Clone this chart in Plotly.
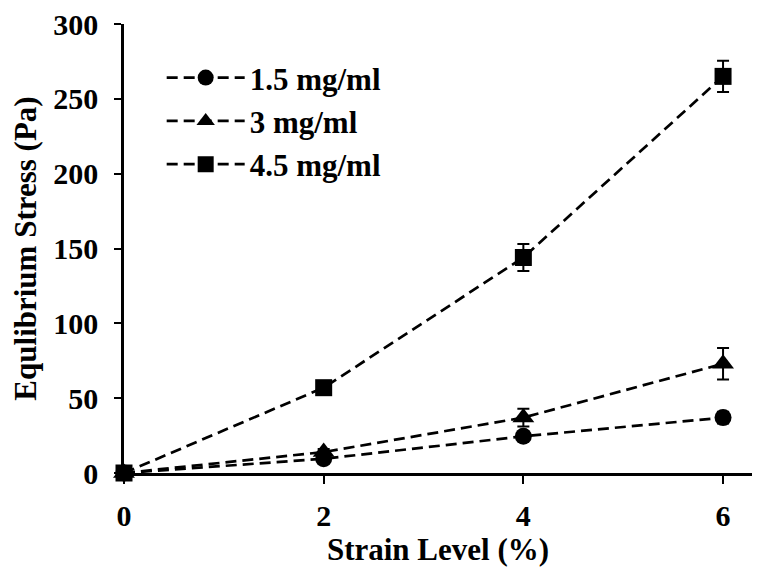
import plotly.graph_objects as go

strain = [0, 2, 4, 6]
series_names = ["1.5 mg/ml", "3 mg/ml", "4.5 mg/ml"]
stress_15 = [0, 9.5, 24.5, 37]
stress_30 = [0, 14, 37, 73]
stress_45 = [0, 57, 144, 265]
err_15 = [0, 1, 2, 4]
err_30 = [0, 2, 6, 10.5]
err_45 = [0, 2, 9, 10.5]
symbols = ["circle", "triangle-up", "square"]
x_ticks = [0, 2, 4, 6]
y_ticks = [0, 50, 100, 150, 200, 250, 300]

FONT = "Liberation Serif"
fig = go.Figure()
for name, ys, es, sym in zip(series_names, [stress_15, stress_30, stress_45],
                             [err_15, err_30, err_45], symbols):
    fig.add_trace(go.Scatter(
        x=strain, y=ys, name=name, mode="lines+markers",
        line=dict(color="black", width=2.7, dash="11px,6px"),
        marker=dict(symbol=sym, size=17 if sym != "triangle-up" else 19, color="black"),
        error_y=dict(type="data", array=es, visible=True, color="black",
                     thickness=2, width=6),
        cliponaxis=False,
    ))

fig.update_layout(
    width=764, height=572,
    margin=dict(l=124, r=12, t=24, b=99),
    plot_bgcolor="white", paper_bgcolor="white",
    font=dict(family=FONT, color="black", size=30),
    showlegend=True,
    legend=dict(x=0.06, y=0.94, xanchor="left", yanchor="top",
                bgcolor="rgba(0,0,0,0)", itemwidth=78,
                font=dict(family=FONT, size=31, weight="bold", color="black"),
                tracegroupgap=0),
)
fig.update_xaxes(
    range=[0, 6.29], tickvals=x_ticks, ticks="outside", ticklen=8, tickwidth=2,
    tickcolor="black", showline=True, linecolor="black", linewidth=2.5,
    showgrid=False, zeroline=False, mirror=False, automargin=False,
    tickfont=dict(family=FONT, size=30, weight="bold", color="black"),
    ticklabelstandoff=6,
    title=dict(text="<b>Strain Level (%)</b>",
               font=dict(family=FONT, size=31, color="black"), standoff=8),
)
fig.update_yaxes(
    range=[0, 300], tickvals=y_ticks, ticks="outside", ticklen=7, tickwidth=2,
    tickcolor="black", showline=True, linecolor="black", linewidth=2.5,
    showgrid=False, zeroline=False, mirror=False, automargin=False,
    tickfont=dict(family=FONT, size=30, weight="bold", color="black"),
    ticklabelstandoff=10,
    title=dict(text="<b>Equlibrium Stress (Pa)</b>",
               font=dict(family=FONT, size=31, color="black"), standoff=8),
)
fig.write_html("out.html")
